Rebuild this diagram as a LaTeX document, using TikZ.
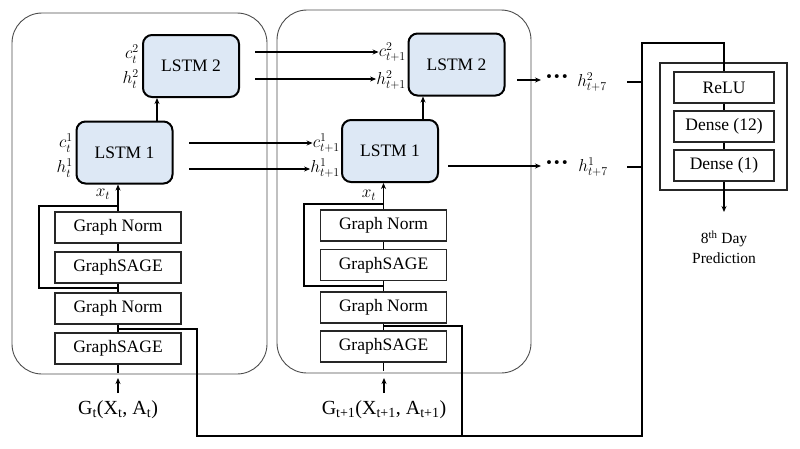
\documentclass[tikz,border=0pt]{standalone}
\usepackage{fontspec}
\setmainfont{Liberation Serif}
\usetikzlibrary{arrows.meta}
\definecolor{lstmblue}{HTML}{DDE8F5}
\begin{document}
\begin{tikzpicture}[x=1pt,y=-1pt,
  outerbox/.style={draw=black!70, line width=0.9pt, rounded corners=30pt, inner sep=0pt},
  lstm/.style={draw=black, line width=2pt, fill=lstmblue, rounded corners=9pt, minimum width=96pt, minimum height=62pt, font=\fontsize{17.5}{20}\selectfont, inner sep=0pt},
  layer/.style={draw=black!85, line width=1.3pt, minimum width=126pt, minimum height=31pt, font=\fontsize{17.5}{20}\selectfont, inner sep=0pt},
  headbox/.style={draw=black!85, line width=1.3pt, minimum width=100pt, minimum height=31pt, font=\fontsize{17.5}{20}\selectfont, inner sep=0pt},
  conn/.style={line width=1.1pt},
  arr/.style={conn, -{Stealth[length=6pt,width=5pt]}},
  lab/.style={font=\fontsize{18.5}{20}\selectfont, inner sep=0pt},
  dots/.style={font=\fontsize{24}{24}\bfseries, inner sep=0pt},
  inlab/.style={font=\fontsize{20}{24}\selectfont, inner sep=1pt},
]
\useasboundingbox (0,0) rectangle (800,448);

% outer rounded boxes
\node[outerbox, minimum width=255pt, minimum height=361pt] (boxA) at (139.5,193.5) {};
\node[outerbox, minimum width=254pt, minimum height=363pt] (boxB) at (404,191.5) {};
\node[draw=black!85, line width=1.3pt, minimum width=127pt, minimum height=127pt, inner sep=0pt] (head) at (723.5,126.5) {};

% ---------- left column ----------
\node[lstm] (L2a) at (191,66) {LSTM 2};
\node[lstm] (L1a) at (124.5,152.5) {LSTM 1};
\node[layer] (GN1a) at (118,227.5) {Graph Norm};
\node[layer] (GS1a) at (118,267.5) {GraphSAGE};
\node[layer] (GN2a) at (118,308.5) {Graph Norm};
\node[layer] (GS2a) at (118,348.5) {GraphSAGE};

\node[lab, anchor=east] (c2a) at (139,54) {$c_t^2$};
\node[lab, anchor=east] (h2a) at (139,79) {$h_t^2$};
\node[lab, anchor=east] (c1a) at (73,143) {$c_t^1$};
\node[lab, anchor=east] (h1a) at (73,168) {$h_t^1$};
\node[lab] (xa) at (103,194) {$x_t$};
\node[inlab] (Ga) at (118,410) {G\textsubscript{t}(X\textsubscript{t}, A\textsubscript{t})};

% ---------- middle column ----------
\node[lstm] (L2b) at (456.5,64.5) {LSTM 2};
\node[lstm] (L1b) at (390,151) {LSTM 1};
\node[layer] (GN1b) at (383.5,225.5) {Graph Norm};
\node[layer] (GS1b) at (383.5,265) {GraphSAGE};
\node[layer] (GN2b) at (383.5,307.5) {Graph Norm};
\node[layer] (GS2b) at (383.5,346.5) {GraphSAGE};

\node[lab, anchor=east] (c2b) at (406,52) {$c_{t+1}^2$};
\node[lab, anchor=east] (h2b) at (406,80) {$h_{t+1}^2$};
\node[lab, anchor=east] (c1b) at (340,143) {$c_{t+1}^1$};
\node[lab, anchor=east] (h1b) at (340,168) {$h_{t+1}^1$};
\node[lab] (xb) at (369,195) {$x_t$};
\node[inlab] (Gb) at (384,410) {G\textsubscript{t+1}(X\textsubscript{t+1}, A\textsubscript{t+1})};

\node[dots] (d2) at (557,80) {···};
\node[dots] (d1) at (557,166) {···};
\node[lab] (h27) at (592,82) {$h_{t+7}^2$};
\node[lab] (h17) at (593,167) {$h_{t+7}^1$};

% ---------- head ----------
\node[headbox] (relu) at (724,87.5) {ReLU};
\node[headbox] (d12) at (724,126.5) {Dense (12)};
\node[headbox] (dn1) at (724,165.5) {Dense (1)};
\node[font=\fontsize{15.5}{20}\selectfont, align=center, inner sep=0pt] (pred) at (724,247) {8\textsuperscript{th} Day\\Prediction};

% ---------- coordinates ----------
\coordinate (c2s) at (255,52);
\coordinate (h2s) at (255,79);
\coordinate (c1s) at (189,143);
\coordinate (h1s) at (189,169);
\coordinate (o2s) at (517,80);
\coordinate (o1s) at (448,166);
\coordinate (o2e) at (541,80);
\coordinate (o1e) at (541,166);
\coordinate (ina) at (118,393);
\coordinate (inb) at (384,393);
\coordinate (pe) at (724,212);

% ---------- connectors: left ----------
\draw[conn] (GS2a.north) -- (GN2a.south);
\draw[conn] (GN2a.north) -- (GS1a.south);
\draw[conn] (GS1a.north) -- (GN1a.south);
\draw[arr] (GN1a.north) -- (GN1a.north |- L1a.south);
\draw[conn] (118,288) -- (39,288) -- (39,206) -- (118,206);
\draw[arr] ([xshift=32.5pt]L1a.north) -- ([xshift=32.5pt]L1a.north |- L2a.south);
\draw[conn] (GS2a.south) -- ++(0,8);
\draw[arr] (ina) -- (118,378);

% ---------- connectors: middle ----------
\draw[conn] (GS2b.north) -- (GN2b.south);
\draw[conn] (GN2b.north) -- (GS1b.south);
\draw[conn] (GS1b.north) -- (GN1b.south);
\draw[arr] (GN1b.north) -- (GN1b.north |- L1b.south);
\draw[conn] (383.5,286) -- (304,286) -- (304,204) -- (383.5,204);
\draw[arr] ([xshift=33pt]L1b.north) -- ([xshift=33pt]L1b.north |- L2b.south);
\draw[conn] (GS2b.south) -- ++(0,8);
\draw[arr] (inb) -- (384,378);

% ---------- recurrent arrows ----------
\draw[arr] (c2s) -- (c2b.west |- c2s);
\draw[arr] (h2s) -- (h2b.west |- h2s);
\draw[arr] (c1s) -- (c1b.west |- c1s);
\draw[arr] (h1s) -- (h1b.west |- h1s);
\draw[arr] (o2s) -- (o2e);
\draw[arr] (o1s) -- (o1e);

% ---------- skip to head ----------
\draw[conn] (118,329) -- (197,329) -- (197,436) -- (642,436) -- (642,43) -- (724,43) -- (relu.north);
\draw[conn] (383.5,326) -- (462,326) -- (462,436);
\draw[conn] (627,82) -- (642,82);
\draw[conn] (627,167) -- (642,167);

% ---------- head ----------
\draw[conn] (relu.south) -- (d12.north);
\draw[conn] (d12.south) -- (dn1.north);
\draw[arr] (dn1.south) -- (pe);
\end{tikzpicture}
\end{document}
